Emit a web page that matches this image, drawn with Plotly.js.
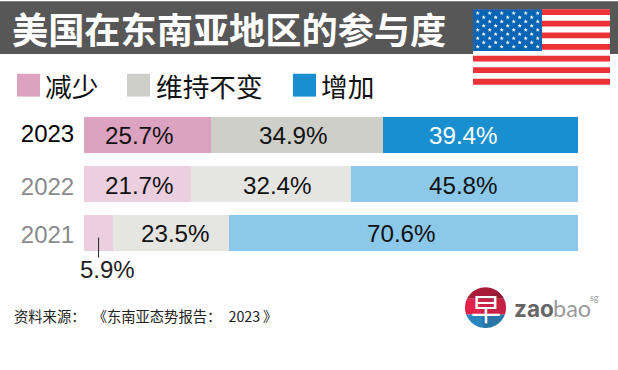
<!DOCTYPE html>
<html><head><meta charset="utf-8">
<script src="https://cdn.plot.ly/plotly-3.0.1.min.js"></script>
<style>html,body{margin:0;padding:0;background:#fff;overflow:hidden}</style>
</head><body><div id="chart" style="width:618px;height:370px"></div>
<script>
const years = ['2021','2022','2023'];
const yearLabels = ['<span style="color:#8a8a8a">2021</span>','<span style="color:#8a8a8a">2022</span>','<span style="color:#000">2023</span>'];
const decrease = [5.9,21.7,25.7];
const same = [23.5,32.4,34.9];
const increase = [70.6,45.8,39.4];
const seriesNames = ['减少','维持不变','增加'];
const decreaseColors = ['#eccfdf','#eccfdf','#dba3bf'];
const sameColors = ['#e5e6e2','#e5e6e2','#cfcfca'];
const increaseColors = ['#8cc8e9','#8cc8e9','#1a8fd0'];
const titleText = '美国在东南亚地区的参与度';
const sourceText = '资料来源：\u2002《东南亚态势报告：\u20022023\u2009》';
// offsets of the value labels from the segment centres, in pixels
const decreaseNudge = [0,2,-8];
const sameNudge = [4,6,-4];
const increaseNudge = [-2,-1,-17];
const rowShift = [-1,-1.5,0];
// year label positions on the category axis
const yearTickPositions = [-0.04,0.94,2.04];

const sans = '"Liberation Sans", Arial, sans-serif';
const cjk = '"Noto Sans CJK SC", sans-serif';
const L=84,T=110.5,W=494,H=147;
const px=x=>(x-L)/W, py=y=>1-(y-T)/H;
const fmt=v=>v.toFixed(1)+'%';
function bar(name,vals,colors){
  return {type:'bar',orientation:'h',name,y:years,x:vals,marker:{color:colors,line:{width:0}},hoverinfo:'skip'};
}
const data=[bar(seriesNames[0],decrease,decreaseColors),bar(seriesNames[1],same,sameColors),bar(seriesNames[2],increase,increaseColors)];
const rect=(x0,y0,x1,y1,c)=>({type:'rect',xref:'paper',yref:'paper',x0:px(x0),x1:px(x1),y0:py(y0),y1:py(y1),fillcolor:c,line:{width:0},layer:'above'});
const P=(x,y)=>px(x)+','+py(y);
function star(cx,cy,r){let s='';for(let i=0;i<10;i++){const a=-Math.PI/2+i*Math.PI/5,q=i%2?r*0.42:r;
  s+=(i?'L':'M')+P(cx+q*Math.cos(a),cy+q*Math.sin(a));}return s+'Z';}
const shapes=[];
shapes.push(rect(0,0,618,53,'#575757'));
shapes.push(rect(473,8,610,84,'#ffffff'));
for(let i=0;i<13;i+=2) shapes.push(rect(473,8+i*5.846,610,8+(i+1)*5.846,'#eb3337'));
shapes.push(rect(473,8,542,50,'#0a66b4'));
let starPath='';
for(let r=0;r<9;r++){const n=r%2?5:6;for(let c=0;c<n;c++){
  starPath+=star(477.7+(r%2?6:0)+c*12,12+r*4.22,2.2);}}
shapes.push({type:'path',xref:'paper',yref:'paper',path:starPath,fillcolor:'#fff',line:{width:0},layer:'above'});
[[17,decreaseColors[2]],[127,sameColors[2]],[293,increaseColors[2]]].forEach(([x,c])=>shapes.push(rect(x,73,x+23,96,c)));
shapes.push({type:'line',xref:'x',yref:'paper',x0:decrease[0]*0.5,x1:decrease[0]*0.5,y0:py(238),y1:py(258),line:{color:'#222',width:1},layer:'above'});
const cx=485.5,cy=308.5,R=20.5;
function seg(y0,y1,c){
  let s='';const N=24;
  for(let i=0;i<=N;i++){const y=y0+(y1-y0)*i/N,d=Math.sqrt(Math.max(0,R*R-(y-cy)*(y-cy)));s+=(i?'L':'M')+P(cx+d,y);}
  for(let i=N;i>=0;i--){const y=y0+(y1-y0)*i/N,d=Math.sqrt(Math.max(0,R*R-(y-cy)*(y-cy)));s+='L'+P(cx-d,y);}
  return {type:'path',xref:'paper',yref:'paper',path:s+'Z',fillcolor:c,line:{width:0},layer:'above'};
}
shapes.push(seg(cy-R,cy-9,'#a81c3a'),seg(cy-9,cy+7,'#e4234b'),seg(cy+7,cy+R,'#2a86bd'));
let facet='M'+P(479,299);
for(let a=-50;a<=95;a+=5){const t=a*Math.PI/180;facet+='L'+P(cx+R*Math.cos(t),cy+R*Math.sin(t));}
shapes.push({type:'path',xref:'paper',yref:'paper',path:facet+'Z',fillcolor:'rgba(40,30,50,0.16)',line:{width:0},layer:'above'});
const ann=(x,y,text,size,color,family,anchor)=>({xref:'paper',yref:'paper',x:px(x),y:py(y),text,showarrow:false,
  xanchor:anchor||'left',yanchor:'middle',font:{size,color,family:family||cjk},borderpad:0,borderwidth:0});
const annotations=[
  ann(12,27,'<b>'+titleText+'</b>',36.2,'#fff'),
  ann(45,85,seriesNames[0],26.7,'#111'),
  ann(155.5,85,seriesNames[1],26.7,'#111'),
  ann(321,85,seriesNames[2],26.7,'#111'),
  ann(80,270,fmt(decrease[0]),24,'#222',sans),
  ann(13.5,316,sourceText,14.3,'#222'),
  ann(485.5,308,'早',30,'#fff',cjk,'center'),
  ann(514,309,'<b>zao</b>',22.5,'#666','Inter, sans-serif'),
  ann(553,309,'bao',23.5,'#9a9a9a','Lato, sans-serif'),
  ann(590,298,'sg',9,'#9a9a9a','Lato, sans-serif')
];
years.forEach((yr,i)=>{
  let start=0;
  [[decrease,decreaseNudge,0],[same,sameNudge,1],[increase,increaseNudge,2]].forEach(([vals,nudge,k])=>{
    const v=vals[i];
    if(!(k===0&&i===0)){
      annotations.push({xref:'x',yref:'y',x:start+v/2,y:i,xshift:nudge[i],yshift:rowShift[i],text:fmt(v),showarrow:false,xanchor:'center',yanchor:'middle',
        font:{family:sans,size:24.2,color:(k===2&&i===2)?'#fff':'#111'}});
    }
    start+=v;
  });
});
const layout={width:618,height:370,paper_bgcolor:'#fff',plot_bgcolor:'#fff',barmode:'stack',bargap:13/49,showlegend:false,
  margin:{l:L,r:618-L-W,t:T,b:370-T-H,pad:0},
  xaxis:{range:[0,100],visible:false,fixedrange:true},
  yaxis:{type:'category',range:[-0.5,2.5],categoryorder:'array',categoryarray:years,tickmode:'array',tickvals:yearTickPositions,ticktext:yearLabels,
    ticks:'outside',ticklen:4,tickcolor:'rgba(0,0,0,0)',showgrid:false,showline:false,zeroline:false,fixedrange:true,
    tickfont:{family:sans,size:24,color:'#000'}},
  shapes,annotations};
Plotly.newPlot('chart',data,layout,{displayModeBar:false,staticPlot:true});
</script></body></html>
